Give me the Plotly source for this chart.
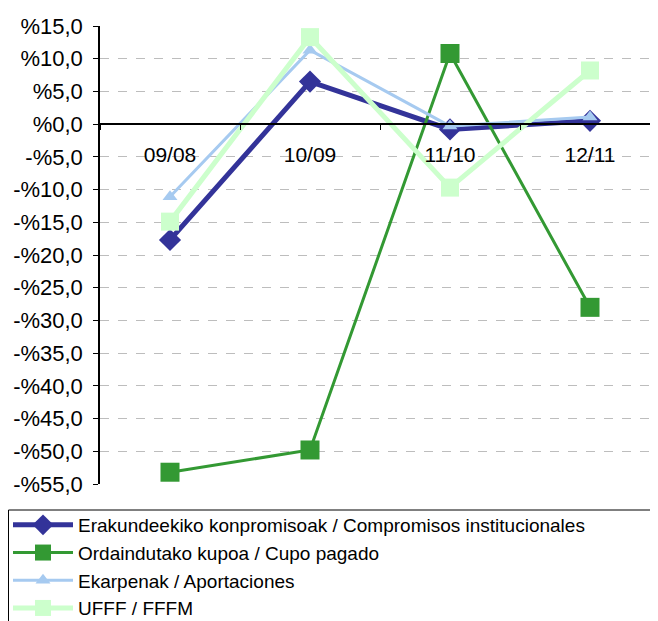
import plotly.graph_objects as go

categories = ["09/08", "10/09", "11/10", "12/11"]
erakundeekiko = [-17.7, 6.5, -0.8, 0.5]
ordaindutako = [-53.2, -49.8, 10.8, -28.0]
ekarpenak = [-11.1, 11.3, -0.3, 1.1]
ufff = [-14.9, 13.3, -9.7, 8.2]

names = [
    "Erakundeekiko konpromisoak / Compromisos institucionales",
    "Ordaindutako kupoa / Cupo pagado",
    "Ekarpenak / Aportaciones",
    "UFFF / FFFM",
]

tick_vals = [15, 10, 5, 0, -5, -10, -15, -20, -25, -30, -35, -40, -45, -50, -55]
tick_text = ["%15,0", "%10,0", "%5,0", "%0,0", "-%5,0", "-%10,0", "-%15,0", "-%20,0",
             "-%25,0", "-%30,0", "-%35,0", "-%40,0", "-%45,0", "-%50,0", "-%55,0"]

FONT = "Liberation Sans, Arial, sans-serif"

fig = go.Figure()
styles = [
    (erakundeekiko, "#333399", 5, "diamond", 17),
    (ordaindutako, "#339933", 3, "square", 19),
    (ekarpenak, "#A6CAF0", 3, "triangle-up", 13),
    (ufff, "#CCFFCC", 5, "square", 18),
]
for i, (vals, col, w, sym, sz) in enumerate(styles):
    fig.add_trace(go.Scatter(
        x=categories, y=vals, name=names[i], mode="lines+markers",
        line=dict(color=col, width=w),
        marker=dict(symbol=sym, size=sz, color=col, line=dict(width=0)),
    ))

# figure-pixel layout (page has 8px body offset)
L, T, R, B = 92, 18, 6, 145
W, H = 658, 621
pw, ph = W - L - R, H - T - B

def px_to_paper_x(px):
    return (px - L) / pw

def px_to_paper_y(py):
    return (H - B - py) / ph

ymin, ymax = -55, 15
fig.update_layout(
    width=W, height=H,
    margin=dict(l=L, r=R, t=T, b=B, autoexpand=False),
    paper_bgcolor="white", plot_bgcolor="white",
    font=dict(family=FONT, color="black", size=20),
    showlegend=True,
    legend=dict(
        xref="container", yref="container",
        x=0, y=1 - 498 / H, xanchor="left", yanchor="top",
        borderwidth=0,
        font=dict(family=FONT, size=19, color="black"),
        itemwidth=60,
        bgcolor="rgba(0,0,0,0)",
        maxheight=300,
    ),
    shapes=[dict(
        type="rect", xref="paper", yref="paper",
        x0=px_to_paper_x(0.5), x1=px_to_paper_x(645),
        y0=px_to_paper_y(502), y1=px_to_paper_y(640),
        line=dict(color="black", width=1), fillcolor="rgba(0,0,0,0)",
        layer="below",
    )],
    xaxis=dict(
        type="category",
        anchor="free", position=(0 - ymin) / (ymax - ymin),
        showline=True, linecolor="black", linewidth=1.5,
        ticks="outside", ticklen=5, tickcolor="black", tickson="boundaries",
        showgrid=False, ticklabelstandoff=12,
        tickfont=dict(size=21),
        range=[-0.5, 3.5],
    ),
    yaxis=dict(
        range=[ymin, ymax],
        tickvals=tick_vals, ticktext=tick_text,
        showline=True, linecolor="black", linewidth=1.5,
        ticks="outside", ticklen=5, tickcolor="black",
        showgrid=True, gridcolor="#BDBDBD", griddash="dash", gridwidth=1.2,
        zeroline=False,
        tickfont=dict(size=22),
        ticklabelstandoff=6,
    ),
)

fig.write_html("out.html")
